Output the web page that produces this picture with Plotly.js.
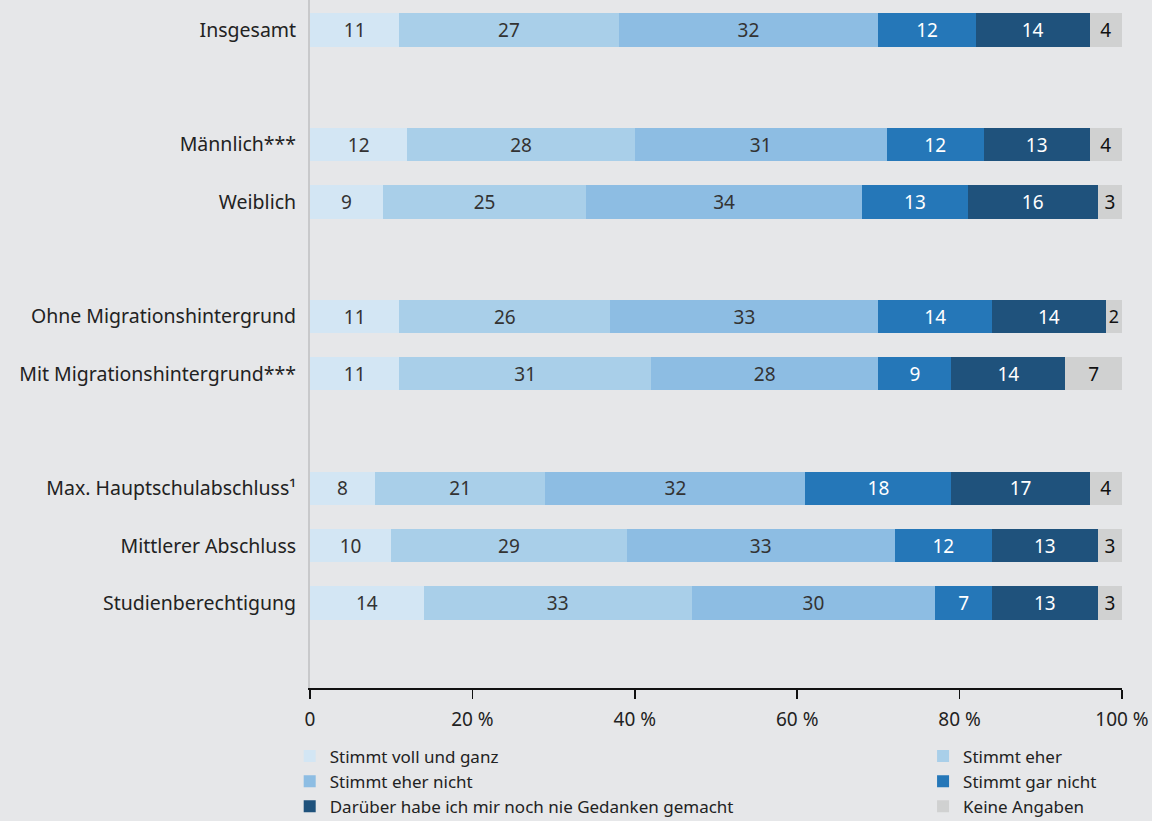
<!DOCTYPE html>
<html><head><meta charset="utf-8">
<script src="https://cdn.plot.ly/plotly-3.0.1.min.js"></script>
<style>html,body{margin:0;padding:0;background:#e6e7e9;}</style>
</head><body><div id="chart" style="width:1152px;height:821px;"></div>
<script>
const categories = ["Insgesamt","Männlich***","Weiblich","Ohne Migrationshintergrund","Mit Migrationshintergrund***","Max. Hauptschulabschluss¹","Mittlerer Abschluss","Studienberechtigung"];
const slots = [0,2,3,5,6,8,9,10];
const seriesNames = ["Stimmt voll und ganz","Stimmt eher","Stimmt eher nicht","Stimmt gar nicht","Darüber habe ich mir noch nie Gedanken gemacht","Keine Angaben"];
const vollUndGanz = [11,12,9,11,11,8,10,14];
const eher = [27,28,25,26,31,21,29,33];
const eherNicht = [32,31,34,33,28,32,33,30];
const garNicht = [12,12,13,14,9,18,12,7];
const nieGedanken = [14,13,16,14,14,17,13,13];
const keineAngaben = [4,4,3,2,7,4,3,3];
const tickVals = [0,20,40,60,80,100];
const tickText = ["0","20 %","40 %","60 %","80 %","100 %"];

const series = [vollUndGanz,eher,eherNicht,garNicht,nieGedanken,keineAngaben];
const colors = ["#d3e6f4","#a9cfe9","#8dbde3","#2577b8","#1f527c","#d0d1d1"];
const textColors = ["#333333","#333333","#333333","#ffffff","#ffffff","#111111"];
const legends = ["legend","legend2","legend","legend2","legend","legend2"];
const FONT = "Noto Sans, sans-serif";

const traces = series.map((vals,i)=>({
  type:"bar", orientation:"h", name:seriesNames[i],
  x:vals, y:slots, width:0.58,
  marker:{color:colors[i], line:{width:0}},
  text:vals.map(String), textposition:"inside", insidetextanchor:"middle",
  textangle:0, textfont:{family:FONT,size:19,color:textColors[i]},
  hoverinfo:"skip", legend:legends[i]
}));

const legendCommon = {yref:"container", y:0.1005, xanchor:"left", yanchor:"top", orientation:"v",
  bgcolor:"rgba(0,0,0,0)", font:{family:FONT,size:17,color:"#222"}, traceorder:"normal"};

const layout = {
  width:1152, height:821,
  paper_bgcolor:"#e6e7e9", plot_bgcolor:"#e6e7e9",
  barmode:"stack",
  margin:{l:310,r:30,t:0,b:133},
  font:{family:FONT,size:19,color:"#222"},
  xaxis:{range:[0,100], tickvals:tickVals, ticktext:tickText, showgrid:false, zeroline:false,
    showline:true, linecolor:"#111", linewidth:1.5, ticks:"outside", ticklen:9, tickcolor:"#111", tickwidth:1.5,
    ticklabelstandoff:5, tickfont:{family:FONT,size:19,color:"#222"}, fixedrange:true},
  yaxis:{range:[11.483,-0.5236], tickvals:slots, ticktext:categories, showgrid:false, zeroline:false,
    showline:true, linecolor:"#c8c9cb", linewidth:2, ticks:"", ticklabelstandoff:8,
    tickfont:{family:FONT,size:19.5,color:"#222"}, fixedrange:true},
  showlegend:true,
  legend:Object.assign({x:-0.025}, legendCommon),
  legend2:Object.assign({x:0.755}, legendCommon)
};
Plotly.newPlot("chart", traces, layout, {displayModeBar:false, staticPlot:true});
</script></body></html>
